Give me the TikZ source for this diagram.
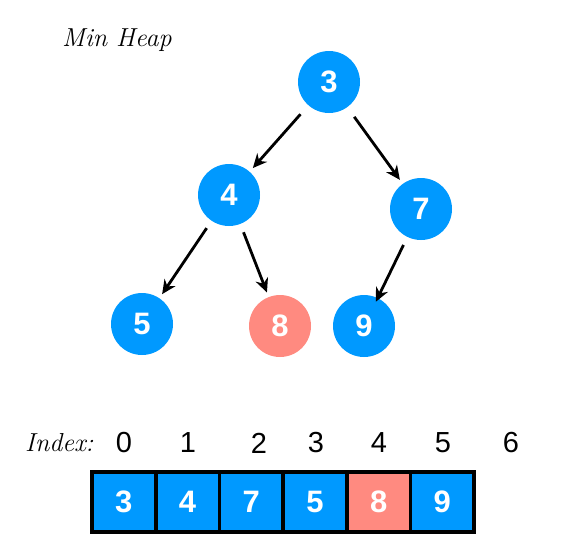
\documentclass[tikz,border=0pt]{standalone}
\usepackage{fontspec}
\setsansfont{Liberation Sans}
\usepackage{tikz}
\usetikzlibrary{arrows.meta}
\definecolor{heap_blue}{HTML}{0099FF}
\definecolor{heap_red}{HTML}{FF8A80}

\begin{document}
\begin{tikzpicture}[x=1pt, y=-1pt, >={Stealth[length=14pt,width=13pt]},
    every node/.style={font=\sffamily},
    heapnode/.style={circle, fill=#1, minimum size=62pt, inner sep=0pt, outer sep=0pt,
      text=white, font=\sffamily\bfseries\fontsize{31}{34}\selectfont},
    heapedge/.style={->, line width=2.8pt, shorten <=12pt, shorten >=5pt},
    cell/.style={rectangle, fill=#1, draw=black, line width=3.6pt, minimum width=63.7pt,
      minimum height=60pt, inner sep=0pt, text=white,
      font=\sffamily\bfseries\fontsize{31}{34}\selectfont},
    hand/.style={font=\rmfamily\itshape\fontsize{26}{30}\selectfont}]

    \useasboundingbox (0,0) rectangle (565,557);

    \node[hand, anchor=west, inner sep=0pt] (title) at (62,40) {Min Heap};

    % the tree
    \node[heapnode=heap_blue] (n3) at (329,82) {3};
    \node[heapnode=heap_blue] (n4) at (229,195) {4};
    \node[heapnode=heap_blue] (n7) at (421,209) {7};
    \node[heapnode=heap_blue] (n5) at (142,324) {5};
    \node[heapnode=heap_red]  (n8) at (280,326) {8};
    \node[heapnode=heap_blue] (n9) at (364,326) {9};

    \draw[heapedge] (n3) -- (n4);
    \draw[heapedge] (n3) -- (n7);
    \draw[heapedge, shorten <=9pt] (n4) -- (n5);
    \draw[heapedge, shorten <=9pt] (n4) -- (n8);
    \draw[heapedge, shorten <=9pt, shorten >=-4pt] (n7) -- (n9);

    % the array
    \node[hand, anchor=west, inner sep=0pt] (index) at (25,443) {Index:};
    \foreach \i/\x in {0/124, 1/188, 2/259, 3/316, 4/379, 5/443, 6/511}
      \node[font=\sffamily\fontsize{29}{32}\selectfont] (i\i) at (\x,443) {\i};

    \foreach \i/\v/\c in {0/3/heap_blue, 1/4/heap_blue, 2/7/heap_blue,
                          3/5/heap_blue, 4/8/heap_red, 5/9/heap_blue}
      \node[cell=\c] (c\i) at ({92+63.7*(\i+0.5)},502) {\v};

\end{tikzpicture}
\end{document}
